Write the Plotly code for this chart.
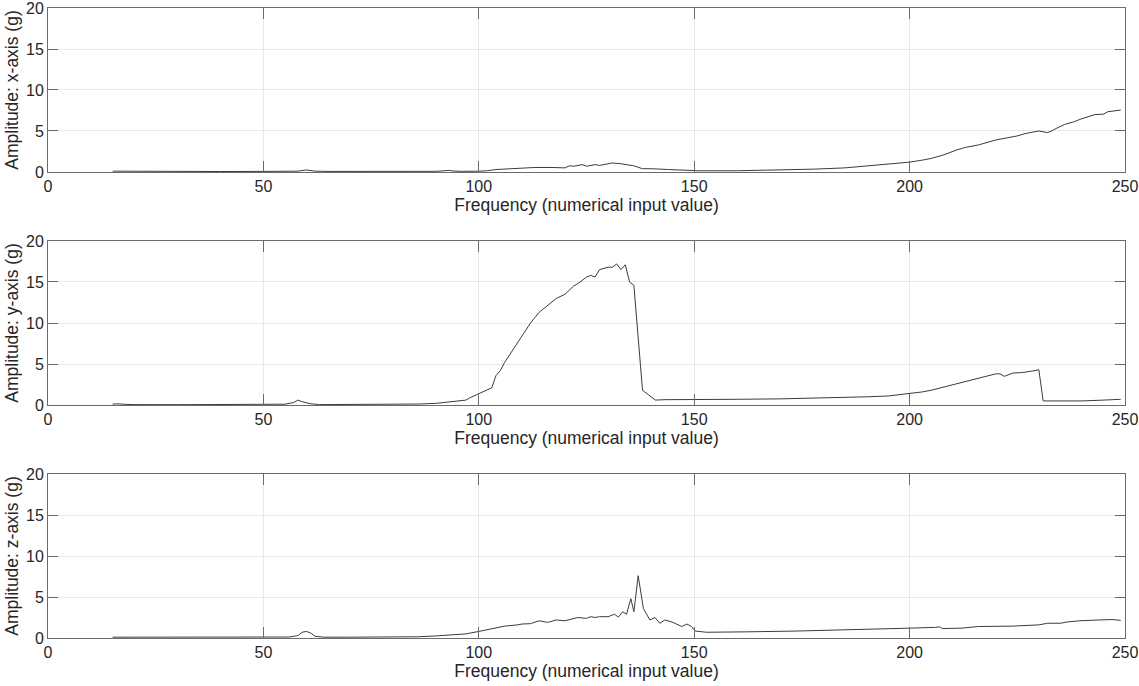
import plotly.graph_objects as go

# ---------------- data ----------------
freq_x = [15, 20, 25, 30, 40, 50, 55, 58, 60, 62, 65, 75, 85, 90, 92, 93, 94, 96, 100, 102,
          104, 107, 110, 113, 117, 120, 121, 122, 124, 125, 127, 128, 130, 131, 133, 136, 138, 140, 144, 148,
          151, 160, 167, 175, 178, 185, 190, 195, 200, 203, 205, 208, 211, 213, 216, 220, 223, 225, 227, 229,
          230, 232, 233, 234, 236, 238, 240, 243, 245, 246, 247, 249]
amp_x = [0.1, 0.08, 0.1, 0.06, 0.06, 0.07, 0.08, 0.1, 0.25, 0.1, 0.07, 0.06, 0.06, 0.08, 0.15, 0.2, 0.12, 0.08, 0.1, 0.15,
         0.3, 0.4, 0.45, 0.55, 0.55, 0.5, 0.75, 0.7, 0.9, 0.7, 0.9, 0.8, 1.0, 1.1, 1.0, 0.75, 0.4, 0.4, 0.3, 0.2,
         0.15, 0.15, 0.2, 0.3, 0.35, 0.5, 0.75, 0.95, 1.2, 1.45, 1.65, 2.1, 2.7, 3.0, 3.3, 3.9, 4.2, 4.4, 4.7, 4.85,
         5.0, 4.8, 5.0, 5.3, 5.8, 6.1, 6.5, 7.0, 7.05, 7.35, 7.4, 7.55]

freq_y = [15, 16, 18, 20, 30, 40, 50, 55, 57, 58, 59, 61, 63, 70, 80, 86, 90, 93, 95, 97,
          98, 100, 102, 103, 104, 105, 106, 107, 108, 109, 110, 111, 112, 114, 116, 118, 120, 122, 123, 125,
          126, 127, 128, 130, 131, 132, 133, 134, 135, 136, 138, 139, 140, 141, 143, 145, 150, 160, 170, 180,
          190, 195, 200, 203, 205, 208, 211, 214, 216, 218, 220, 221, 222, 224, 226, 228, 230, 231, 235, 240,
          245, 249]
amp_y = [0.1, 0.15, 0.08, 0.05, 0.04, 0.04, 0.05, 0.1, 0.3, 0.6, 0.4, 0.15, 0.05, 0.05, 0.07, 0.12, 0.2, 0.35, 0.5, 0.6,
         0.9, 1.4, 1.8, 2.1, 3.6, 4.2, 5.2, 6.0, 6.7, 7.6, 8.3, 9.2, 10.0, 11.3, 12.2, 13.0, 13.5, 14.5, 14.8, 15.6,
         15.8, 15.6, 16.5, 16.8, 16.8, 17.2, 16.5, 17.1, 15.0, 14.6, 1.8, 1.4, 1.1, 0.6, 0.65, 0.65, 0.7, 0.7, 0.75, 0.85,
         1.0, 1.1, 1.4, 1.6, 1.8, 2.2, 2.6, 3.0, 3.3, 3.6, 3.8, 3.8, 3.5, 3.9, 3.95, 4.1, 4.3, 0.5, 0.5, 0.5,
         0.6, 0.7]

freq_z = [15, 20, 30, 40, 50, 56, 58, 59, 60, 61, 62, 64, 70, 80, 86, 90, 95, 97, 100, 102,
          104, 106, 109, 110, 112, 114, 116, 118, 120, 123, 125, 126, 127, 128, 130, 131.5, 132.4, 133.4, 134.3, 135.3,
          136, 137, 138.2, 139.7, 140.9, 142, 143.2, 145.1, 147.1, 148.3, 149.4, 150.2, 152.8, 156, 162, 174, 189, 200,
          206, 207, 207.6, 212, 216, 224, 230, 232, 235, 236.5, 239.5, 242, 244, 247, 249]
amp_z = [0.1, 0.1, 0.1, 0.12, 0.12, 0.12, 0.3, 0.7, 0.8, 0.6, 0.2, 0.1, 0.1, 0.12, 0.15, 0.25, 0.4, 0.5, 0.8, 1.0,
         1.2, 1.45, 1.6, 1.7, 1.75, 2.1, 1.9, 2.2, 2.1, 2.5, 2.4, 2.6, 2.5, 2.6, 2.6, 2.9, 2.55, 3.2, 2.9, 4.8,
         3.2, 7.6, 3.6, 2.2, 2.5, 1.8, 2.2, 1.9, 1.4, 1.7, 1.4, 0.85, 0.7, 0.7, 0.75, 0.85, 1.0, 1.2,
         1.3, 1.35, 1.15, 1.2, 1.4, 1.45, 1.6, 1.8, 1.8, 1.95, 2.1, 2.2, 2.2, 2.25, 2.15]

assert len(freq_x) == len(amp_x), (len(freq_x), len(amp_x))
assert len(freq_y) == len(amp_y), (len(freq_y), len(amp_y))
assert len(freq_z) == len(amp_z), (len(freq_z), len(amp_z))

x_ticks = [0, 50, 100, 150, 200, 250]
y_ticks = [0, 5, 10, 15, 20]
y_titles = ["Amplitude: x-axis (g)", "Amplitude: y-axis (g)", "Amplitude: z-axis (g)"]
x_title = "Frequency (numerical input value)"

# ---------------- figure ----------------
FONT = "Liberation Sans, Arial, Helvetica, sans-serif"
AX_COLOR = "#6b6b6b"
GRID = "#e8e8e8"
TXT = "#262626"
TICK_SIZE = 16
TITLE_SIZE = 17.5

fig = go.Figure()
series = [(freq_x, amp_x), (freq_y, amp_y), (freq_z, amp_z)]
domains = [[0.7397, 1.0], [0.3698, 0.6302], [0.0, 0.2603]]

layout = dict(
    width=1139, height=686,
    margin=dict(l=48, r=14, t=8, b=48, autoexpand=False),
    paper_bgcolor="white", plot_bgcolor="white",
    showlegend=False,
    font=dict(family=FONT, color=TXT, size=TICK_SIZE),
)

for i, ((f, a), dom) in enumerate(zip(series, domains)):
    n = "" if i == 0 else str(i + 1)
    fig.add_trace(go.Scatter(x=f, y=a, mode="lines",
                             line=dict(color="#3c3c3c", width=1),
                             xaxis="x" + n, yaxis="y" + n, hoverinfo="x+y"))
    layout["xaxis" + n] = dict(
        domain=[0, 1], anchor="y" + n, range=[0, 250], automargin=False,
        tickvals=x_ticks, ticks="inside", ticklen=11, tickcolor=AX_COLOR,
        showline=True, linecolor=AX_COLOR, linewidth=1, mirror="ticks",
        showgrid=True, gridcolor=GRID, gridwidth=1, zeroline=False,
        tickfont=dict(size=TICK_SIZE, color=TXT), ticklabeloverflow="allow",
        title=dict(text=x_title, font=dict(size=TITLE_SIZE, color=TXT), standoff=0),
    )
    layout["yaxis" + n] = dict(
        domain=dom, anchor="x" + n, range=[0, 20], automargin=False,
        tickvals=y_ticks, ticks="inside", ticklen=10, tickcolor=AX_COLOR,
        showline=True, linecolor=AX_COLOR, linewidth=1, mirror="ticks",
        showgrid=True, gridcolor=GRID, gridwidth=1, zeroline=False,
        tickfont=dict(size=TICK_SIZE, color=TXT), ticklabeloverflow="allow",
        title=dict(text=y_titles[i], font=dict(size=TITLE_SIZE, color=TXT), standoff=2),
    )

fig.update_layout(**layout)
fig.write_html(
    "out.html",
    config={"displayModeBar": False},
    post_script="document.body.style.margin='0';document.body.style.padding='0';"
                "document.documentElement.style.overflow='hidden';",
)
